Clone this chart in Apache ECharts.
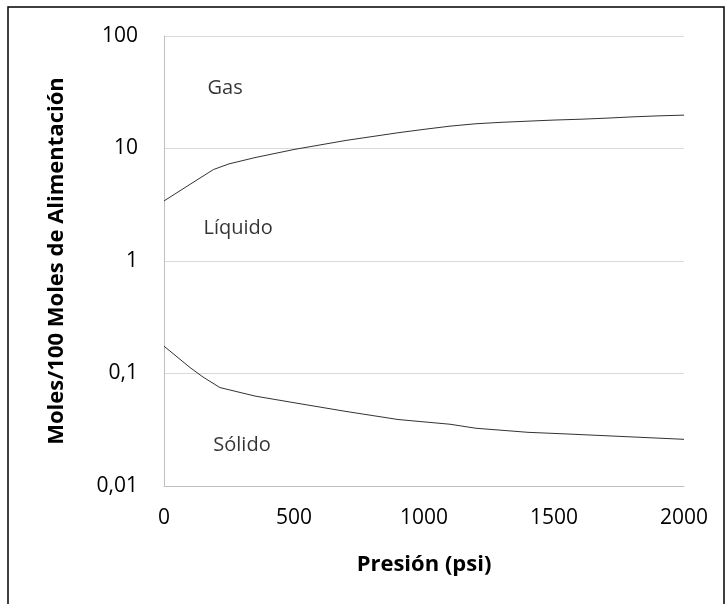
<!DOCTYPE html>
<html>
<head>
<meta charset="utf-8">
<script src="https://cdn.jsdelivr.net/npm/echarts@6/dist/echarts.min.js"></script>
<style>
  html, body { margin: 0; padding: 0; background: #fff; }
  #chart { width: 728px; height: 604px; }
</style>
</head>
<body>
<div id="chart"></div>
<script>
// límite líquido / gas
var presionGas = [0, 100, 190, 250, 350, 500, 700, 900, 1000, 1100, 1200, 1300, 1400, 1500, 1600, 1700, 1800, 1900, 2000];
var molesGas = [3.42, 4.8, 6.5, 7.3, 8.3, 9.8, 11.8, 13.8, 14.8, 15.8, 16.6, 17.1, 17.5, 17.9, 18.2, 18.6, 19.1, 19.5, 19.8];

// límite sólido / líquido
var presionSolido = [0, 100, 150, 215, 350, 500, 700, 900, 1100, 1200, 1400, 1550, 1800, 2000];
var molesSolido = [0.175, 0.113, 0.093, 0.075, 0.063, 0.055, 0.046, 0.039, 0.0354, 0.0326, 0.030, 0.029, 0.0273, 0.026];

// etiquetas de fase (presión, moles)
var fases = ['Gas', 'Líquido', 'Sólido'];
var fasesX = [235, 285, 300];
var fasesY = [34.4, 1.95, 0.023];

var xTicks = [0, 500, 1000, 1500, 2000];

function zip(xs, ys) {
  let out = [];
  for (let i = 0; i < xs.length; i++) {
    out.push([xs[i], ys[i]]);
  }
  return out;
}

var font = 'Open Sans';
var chart = echarts.init(document.getElementById('chart'));
var option = {
  backgroundColor: '#ffffff',
  animation: false,
  textStyle: { fontFamily: font },
  grid: { left: 164, right: 44, top: 36, bottom: 118 },
  graphic: [{
    type: 'rect',
    shape: { x: 8, y: 7, width: 716, height: 640 },
    style: { fill: 'none', stroke: '#000', lineWidth: 1.5 },
    silent: true
  }],
  xAxis: {
    type: 'value',
    min: xTicks[0],
    max: xTicks[xTicks.length - 1],
    interval: 500,
    name: 'Presión (psi)',
    nameLocation: 'middle',
    nameGap: 68,
    nameTextStyle: { fontFamily: font, fontWeight: 'bold', fontSize: 22, color: '#000' },
    axisLine: { show: true, lineStyle: { color: '#bfbfbf', width: 1 } },
    axisTick: { show: false },
    splitLine: { show: false },
    axisLabel: {
      color: '#000', fontSize: 21, margin: 22, fontFamily: font,
      formatter: function (v) { return String(v); }
    }
  },
  yAxis: {
    type: 'log',
    logBase: 10,
    min: 0.01,
    max: 100,
    name: 'Moles/100 Moles de Alimentación',
    nameLocation: 'middle',
    nameGap: 96,
    nameTextStyle: { fontFamily: font, fontWeight: 'bold', fontSize: 22, color: '#000' },
    axisLine: { show: true, lineStyle: { color: '#bfbfbf', width: 1 } },
    axisTick: { show: false },
    splitLine: { show: true, lineStyle: { color: '#d9d9d9', width: 1 } },
    axisLabel: {
      color: '#000', fontSize: 21, margin: 26, fontFamily: font,
      formatter: function (v) { return String(+v.toPrecision(3)).replace('.', ','); }
    }
  },
  series: [{
    type: 'line',
    data: zip(presionGas, molesGas),
    showSymbol: false,
    lineStyle: { color: '#333', width: 1 }
  }, {
    type: 'line',
    data: zip(presionSolido, molesSolido),
    showSymbol: false,
    lineStyle: { color: '#333', width: 1 }
  }, {
    type: 'scatter',
    symbolSize: 0,
    data: fases.map(function (n, i) { return { name: n, value: [fasesX[i], fasesY[i]] }; }),
    label: {
      show: true,
      position: 'inside',
      formatter: '{b}',
      color: '#000',
      fontSize: 20,
      fontFamily: font
    }
  }]
};
chart.setOption(option);
</script>
</body>
</html>
